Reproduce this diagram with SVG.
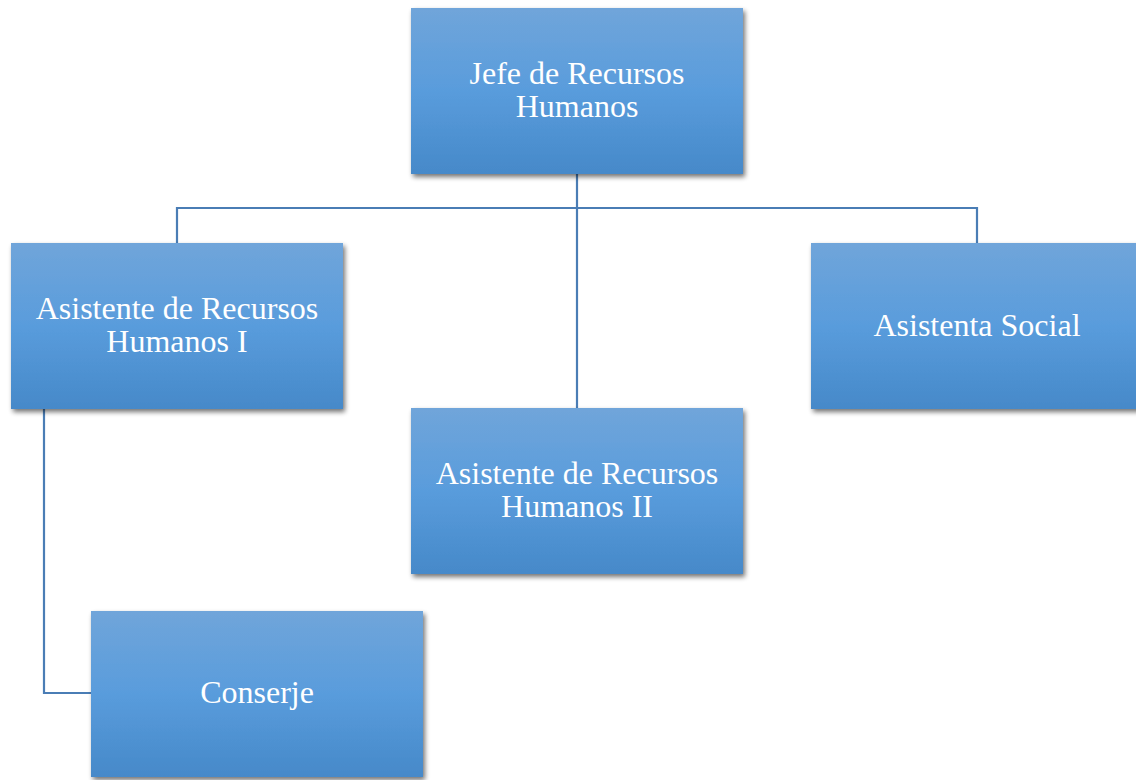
<svg xmlns="http://www.w3.org/2000/svg" width="1136" height="780" viewBox="0 0 1136 780">
<defs>
<linearGradient id="g" x1="0" y1="0" x2="0" y2="1">
<stop offset="0" stop-color="#70a5da"/>
<stop offset="0.5" stop-color="#599cdc"/>
<stop offset="1" stop-color="#4689c9"/>
</linearGradient>
<filter id="sh" x="-10%" y="-10%" width="125%" height="125%">
<feGaussianBlur in="SourceAlpha" stdDeviation="2.5"/>
<feOffset dx="2" dy="3" result="b"/>
<feComponentTransfer><feFuncA type="linear" slope="0.55"/></feComponentTransfer>
<feMerge><feMergeNode/><feMergeNode in="SourceGraphic"/></feMerge>
</filter>
</defs>
<style>
.box{fill:url(#g);filter:url(#sh)}
.t{font-family:"Liberation Serif","Times New Roman",serif;font-size:32px;fill:#ffffff;text-anchor:middle}
.c{fill:none;stroke:#4a7db5;stroke-width:2.2}
</style>
<rect width="1136" height="780" fill="#ffffff"/>
<g id="connectors">
<path class="c" d="M577 174 V408"/>
<path class="c" d="M177 243 V208 H977 V243"/>
<path class="c" d="M44 409 V693 H91" stroke="#5a8fcf"/>
</g>
<g id="jefe">
<rect class="box" x="411" y="8" width="332" height="166"/>
<text class="t" x="577" y="84">Jefe de Recursos</text>
<text class="t" x="577" y="117">Humanos</text>
</g>
<g id="asistente1">
<rect class="box" x="11" y="243" width="332" height="166"/>
<text class="t" x="177" y="319">Asistente de Recursos</text>
<text class="t" x="177" y="352">Humanos I</text>
</g>
<g id="asistenta-social">
<rect class="box" x="811" y="243" width="332" height="166"/>
<text class="t" x="977" y="336">Asistenta Social</text>
</g>
<g id="asistente2">
<rect class="box" x="411" y="408" width="332" height="166"/>
<text class="t" x="577" y="484">Asistente de Recursos</text>
<text class="t" x="577" y="517">Humanos II</text>
</g>
<g id="conserje">
<rect class="box" x="91" y="611" width="332" height="166"/>
<text class="t" x="257" y="703">Conserje</text>
</g>
</svg>
